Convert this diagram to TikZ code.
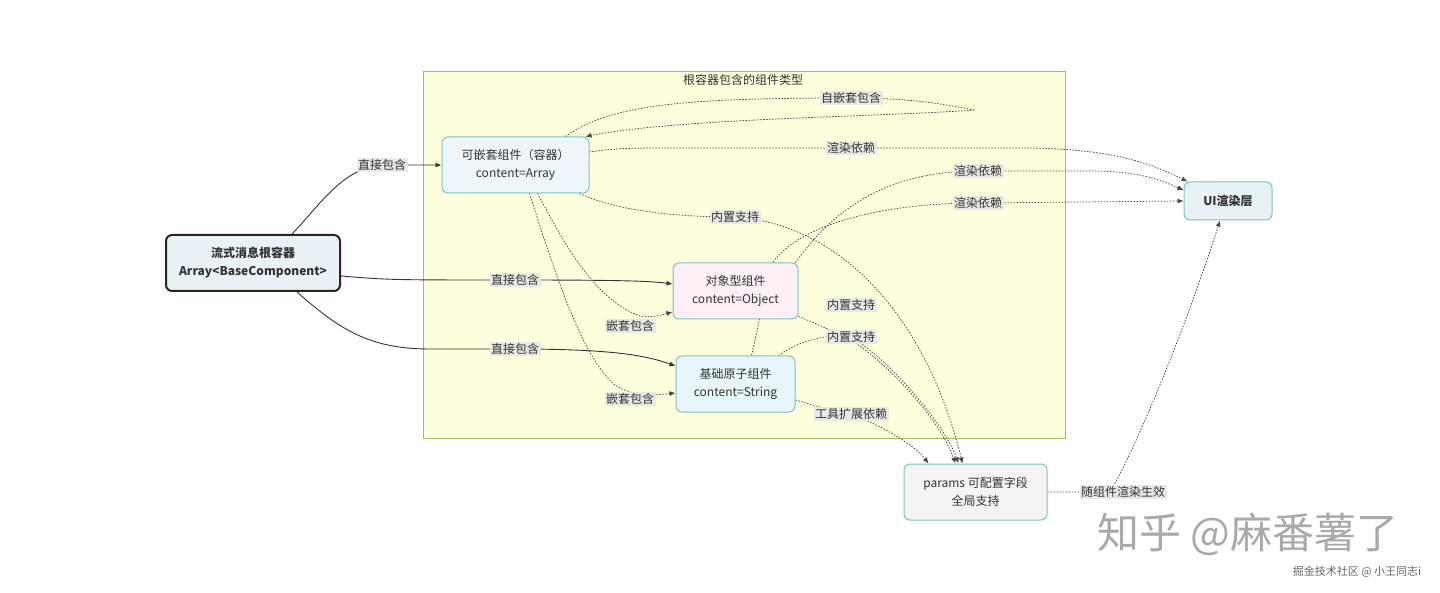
\documentclass[tikz,border=0pt]{standalone}
\usepackage{fontspec}
\setmainfont{Noto Sans CJK SC}
\usetikzlibrary{arrows.meta}
\definecolor{textc}{HTML}{333333}
\definecolor{linec}{HTML}{333333}
\definecolor{dotc}{HTML}{444444}
\definecolor{nodeborder}{HTML}{7DC2BE}
\definecolor{clusterfill}{HTML}{FFFFDE}
\definecolor{clusterborder}{HTML}{B5B560}
\definecolor{rootfill}{HTML}{E9F3F7}
\definecolor{nestfill}{HTML}{EEF6FC}
\definecolor{objfill}{HTML}{FCF0F6}
\definecolor{strfill}{HTML}{E8F6FB}
\definecolor{uifill}{HTML}{E6F2F6}
\definecolor{parfill}{HTML}{F4F4F4}
\definecolor{lblbg}{HTML}{E6E6E6}
\definecolor{wmark}{HTML}{A9A9A9}
\pgfdeclarelayer{back}
\pgfdeclarelayer{edges}
\pgfsetlayers{back,edges,main}
\tikzset{
  box/.style={draw=nodeborder, line width=1pt, rounded corners=6pt, minimum height=56pt,
    align=center, text=textc, font=\fontsize{12}{18}\selectfont, inner sep=0pt},
  lbl/.style={fill=lblbg, fill opacity=0.9, text opacity=1, text=textc, inner sep=1.5pt,
    font=\fontsize{12}{14}\selectfont},
  sol/.style={draw=linec, line width=0.9pt, -{Latex[length=6pt,width=5pt]}},
  dotl/.style={draw=dotc, line width=0.75pt, dash pattern=on 1.5pt off 1.5pt,
    -{Latex[length=6pt,width=5pt]}},
}
\begin{document}
\begin{tikzpicture}[x=1pt,y=-1pt]
\useasboundingbox (0,0) rectangle (1440,593);
% cluster
\begin{pgfonlayer}{back}
\fill[white] (0,0) rectangle (1440,593);
\draw[fill=clusterfill, draw=clusterborder, line width=1pt] (423,72) rectangle (1065,438);
\end{pgfonlayer}
\node[text=textc, font=\fontsize{12}{14}\selectfont] (title) at (743,80) {根容器包含的组件类型};
% nodes
\node[box, draw=black!85, line width=2pt, fill=rootfill, minimum width=174pt, font=\fontsize{12}{18}\selectfont\bfseries] (root) at (253,263) {流式消息根容器\\Array<BaseComponent>};
\node[box, fill=nestfill, minimum width=147pt] (nest) at (515.5,165) {可嵌套组件（容器）\\content=Array};
\node[box, fill=objfill, minimum width=125pt] (obj) at (735.5,291) {对象型组件\\content=Object};
\node[box, fill=strfill, minimum width=119pt] (str) at (735.5,384) {基础原子组件\\content=String};
\node[box, fill=uifill, minimum width=88pt, minimum height=38pt, font=\fontsize{12}{18}\selectfont\bfseries] (ui) at (1228,201) {UI渲染层};
\node[box, fill=parfill, minimum width=143pt] (par) at (975.5,492) {params 可配置字段\\全局支持};
\coordinate (loop) at (975,110);
% edges
\begin{pgfonlayer}{edges}
\draw[sol] ([xshift=39pt]root.north) .. controls (320,205) and (345,165) .. (385,165) -- (nest.west);
\draw[sol] ([yshift=-13pt]root.east) .. controls (390,280) .. (515,280) .. controls (620,280) and (650,281) .. ([yshift=7pt]obj.west);
\draw[sol] ([xshift=44pt]root.south) .. controls (340,330) and (370,349) .. (430,349) -- (515,349) .. controls (610,349) and (645,355) .. ([yshift=18pt]str.west);
\draw[dotl] ([xshift=50pt]nest.north) .. controls (610,105) and (680,98) .. (851,98) .. controls (920,98) and (950,106) .. (loop) .. controls (880,117) and (680,118) .. ([xshift=-4pt]nest.north east);
\draw[dotl] ([yshift=13pt]nest.east) .. controls (620,148) .. (700,148) -- (1020,148) .. controls (1110,148) and (1150,163) .. ([xshift=4pt]ui.north west);
\draw[dotl] ([xshift=-3pt]obj.north east) .. controls (830,215) and (880,171) .. (978,171) -- (1090,171) .. controls (1140,171) and (1160,180) .. ([yshift=11pt]ui.west);
\draw[dotl] ([xshift=16pt]str.north) .. controls (762,310) and (765,290) .. (773,262) .. controls (800,225) and (880,203) .. (978,203) -- (ui.west);
\draw[dotl] ([xshift=-10pt]nest.south east) .. controls (620,212) and (680,217) .. (735,217) .. controls (850,225) and (930,330) .. ([xshift=-13pt]par.north);
\draw[dotl] ([yshift=3pt]obj.south east) .. controls (820,325) and (840,335) .. (851,340) .. controls (890,365) and (940,420) .. ([xshift=-20pt]par.north);
\draw[dotl] ([xshift=-17pt]str.north east) .. controls (800,340) and (830,333) .. (851,337) .. controls (890,360) and (945,425) .. ([xshift=-17pt]par.north);
\draw[dotl] ([yshift=-16pt]str.east) .. controls (820,407) and (835,412) .. (851,414) .. controls (880,425) and (915,445) .. ([xshift=-47pt]par.north);
\draw[dotl] ([xshift=22pt]nest.south) .. controls (565,245) and (595,300) .. (640,316) .. controls (655,318) and (665,314) .. ([yshift=-21pt]obj.west);
\draw[dotl] ([xshift=14pt]nest.south) .. controls (560,290) and (585,360) .. (615,385) .. controls (635,398) and (655,395) .. ([yshift=-9pt]str.west);
\draw[dotl] (par.east) -- (1110,492) .. controls (1135,450) and (1185,330) .. ([xshift=-8pt]ui.south);
\end{pgfonlayer}
% labels
\node[lbl] (l1) at (382,165) {直接包含};
\node[lbl] (l2) at (515,280) {直接包含};
\node[lbl] (l3) at (515,349) {直接包含};
\node[lbl] (l4) at (851,98) {自嵌套包含};
\node[lbl] (l5) at (851,148) {渲染依赖};
\node[lbl] (l6) at (978,171) {渲染依赖};
\node[lbl] (l7) at (978,203) {渲染依赖};
\node[lbl] (l8) at (735,217) {内置支持};
\node[lbl] (l9) at (851,305) {内置支持};
\node[lbl] (l10) at (851,337) {内置支持};
\node[lbl] (l11) at (851,414) {工具扩展依赖};
\node[lbl] (l12) at (630,326) {嵌套包含};
\node[lbl] (l13) at (630,399) {嵌套包含};
\node[lbl] (l14) at (1123,492) {随组件渲染生效};
% watermarks
\node[text=wmark, font=\fontsize{42}{46}\selectfont] (wm) at (1248,534) {知乎 @麻番薯了};
\node[text=black!60, font=\fontsize{11}{13}\selectfont] (wm2) at (1357,572) {掘金技术社区 @ 小王同志i};
\end{tikzpicture}
\end{document}
